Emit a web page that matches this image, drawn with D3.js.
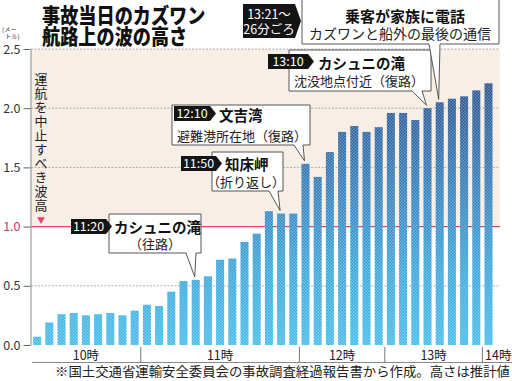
<!DOCTYPE html>
<html><head><meta charset="utf-8">
<script src="https://cdn.jsdelivr.net/npm/d3@7"></script>
<style>
html,body{margin:0;padding:0;background:#fff;}
svg{display:block;font-family:"Noto Sans CJK JP","Noto Sans",sans-serif;}
</style></head>
<body>
<script>
// ---- data ----
const waves = [0.07,0.19,0.26,0.27,0.25,0.26,0.27,0.25,0.29,0.34,0.33,0.45,0.54,0.55,0.58,0.72,0.73,0.87,0.94,
               1.13,1.11,1.11,1.53,1.42,1.63,1.80,1.85,1.80,1.84,1.96,1.96,1.90,2.00,2.05,2.08,2.10,2.15,2.21];
const hourLabels = ["10時","11時","12時","13時","14時"];
const hourBarCounts = [9,13,7,8,1];
const yTicks = [0,0.5,1.0,1.5,2.0,2.5];
const limitValue = 1.0;
const limitLabel = "運航を中止すべき波高";
const annoBars = [13,20,22,32,33];
const annoTimes = ["11:20","11:50","12:10","13:10","13:21～|26分ごろ"];
const annoTitles = ["カシュニの滝","知床岬","文吉湾","カシュニの滝","乗客が家族に電話"];
const annoSubs = ["（往路）","（折り返し）","避難港所在地（復路）","沈没地点付近（復路）","カズワンと船外の最後の通信"];
const titleLines = ["事故当日のカズワン","航路上の波の高さ"];
const unitLines = ["(メー","トル)"];
const footnote = "※国土交通省運輸安全委員会の事故調査経過報告書から作成。高さは推計値";

// ---- layout ----
const W=512,H=381;
const svg=d3.select("body").append("svg").attr("width",W).attr("height",H);
const defs=svg.append("defs");
const y=d3.scaleLinear().domain([0,2.5]).range([345,49]);
const x=d3.scaleBand().domain(d3.range(waves.length)).range([31,494.6]).paddingInner(0.344).paddingOuter(0.172);
const bw=x.bandwidth();

const grad=defs.append("linearGradient").attr("id","barGrad").attr("gradientUnits","userSpaceOnUse")
  .attr("x1",0).attr("x2",0).attr("y1",y(0)).attr("y2",y(2.5));
grad.append("stop").attr("offset",0).attr("stop-color","#48bdea");
grad.append("stop").attr("offset",0.25).attr("stop-color","#3ea8dc");
grad.append("stop").attr("offset",0.45).attr("stop-color","#3a8bc6");
grad.append("stop").attr("offset",0.75).attr("stop-color","#30649f");
grad.append("stop").attr("offset",1).attr("stop-color","#2a4c85");

const hatch=defs.append("pattern").attr("id","hatch").attr("patternUnits","userSpaceOnUse").attr("width",3).attr("height",3);
hatch.append("path").attr("d","M0,0 L3,3 M-1,2 L1,4 M2,-1 L4,1").attr("stroke","#fff").attr("stroke-opacity",0.3).attr("stroke-width",0.6);
hatch.append("path").attr("d","M0,3 L3,0 M-1,1 L1,-1 M2,4 L4,2").attr("stroke","#fff").attr("stroke-opacity",0.3).attr("stroke-width",0.6);

// beige zone above limit
svg.append("rect").attr("x",31).attr("y",y(2.5)).attr("width",469).attr("height",y(limitValue)-y(2.5)).attr("fill","#f7efe6");

// title (one text, two lines, horizontally condensed)
const tt=svg.append("g").attr("transform","translate(42,0) scale(0.865,1)")
  .append("text").attr("font-size",21).attr("font-weight",900).attr("fill","#111");
tt.selectAll("tspan").data(titleLines).join("tspan").attr("x",0).attr("y",(d,i)=>22.5+i*21.5).text(d=>d);

// grid
svg.selectAll("line.grid").data(yTicks.filter(t=>t>0&&t!==limitValue)).join("line").attr("class","grid")
  .attr("x1",31).attr("x2",500).attr("y1",d=>y(d)).attr("y2",d=>y(d))
  .attr("stroke","#9a9a9a").attr("stroke-width",0.8).attr("stroke-dasharray","2,1.5");
svg.append("line").attr("x1",31).attr("x2",500).attr("y1",y(limitValue)).attr("y2",y(limitValue))
  .attr("stroke","#e2456f").attr("stroke-width",1.2);

// bars
svg.append("g").selectAll("rect").data(waves).join("rect")
  .attr("x",(d,i)=>x(i)).attr("y",d=>y(d)).attr("width",bw).attr("height",d=>y(0)-y(d)).attr("fill","url(#barGrad)");
svg.append("g").selectAll("rect").data(waves).join("rect")
  .attr("x",(d,i)=>x(i)).attr("y",d=>y(d)).attr("width",bw).attr("height",d=>y(0)-y(d)).attr("fill","url(#hatch)");

// y axis
const ax=svg.append("g").attr("transform","translate(30.5,0)")
  .call(d3.axisLeft(y).tickValues(yTicks).tickSize(7).tickSizeOuter(0).tickPadding(3).tickFormat(d3.format(".1f")));
ax.select(".domain").attr("stroke","#888").attr("stroke-width",1);
ax.selectAll(".tick line").attr("stroke","#666");
ax.selectAll(".tick text").attr("font-size",12.5).attr("font-family","'Noto Sans CJK JP',sans-serif")
  .attr("fill",d=>d===limitValue?"#d8365f":"#333");

// unit (one text, two lines)
const ut=svg.append("text").attr("font-size",6.3).attr("fill","#333");
ut.selectAll("tspan").data(unitLines).join("tspan").attr("x",(d,i)=>i===0?2:5).attr("y",(d,i)=>32+i*6.5).text(d=>d);

// limit label vertical (single text, vertical writing mode)
svg.append("text").attr("x",41).attr("y",73).attr("font-size",13).attr("fill","#222")
  .style("writing-mode","vertical-rl").attr("textLength",139).attr("lengthAdjust","spacing").text(limitLabel);
svg.append("path").attr("d",d3.symbol(d3.symbolTriangle,26)()).attr("transform",`translate(41,${y(limitValue)-7}) rotate(180)`).attr("fill","#e2456f");

// x axis
const xAxisY=362.5;
svg.append("line").attr("x1",32).attr("x2",512).attr("y1",xAxisY).attr("y2",xAxisY).attr("stroke","#888").attr("stroke-width",1);
const starts=[];let acc=0;hourBarCounts.forEach(c=>{starts.push(acc);acc+=c;});
const segStart=i=> i===0?31:(x(starts[i]-1)+bw+x(starts[i]))/2;
const segEnd=i=> i===hourLabels.length-1?512:(x(starts[i]+hourBarCounts[i]-1)+bw+x(starts[i]+hourBarCounts[i]))/2;
svg.selectAll("line.sep").data(hourLabels.slice(1)).join("line").attr("class","sep")
  .attr("x1",(d,i)=>segStart(i+1)).attr("x2",(d,i)=>segStart(i+1)).attr("y1",347).attr("y2",xAxisY)
  .attr("stroke","#777").attr("stroke-width",1);
svg.selectAll("text.hour").data(hourLabels).join("text").attr("class","hour")
  .attr("x",(d,i)=>(segStart(i)+segEnd(i))/2+(i===4?1:0)).attr("y",360).attr("text-anchor","middle")
  .attr("font-size",12.5).attr("fill","#222").text(d=>d);

// footnote
svg.append("text").attr("x",55).attr("y",376).attr("font-size",13).attr("fill","#222")
  .attr("textLength",455).attr("lengthAdjust","spacingAndGlyphs").text(footnote);

// callouts
const layout=[
  {box:[109,214,201,253],tag:[71,219,41,15],title:[114,233],sub:[155,249,"middle"],pb:[186,196]},
  {box:[212,152,283,191],tag:[181,156,41,15],title:[225,170],sub:[246,187,"middle"],pb:[269,278]},
  {box:[172,105,310,145],tag:[174,106,42,15],title:[219,121],sub:[177,141,"start"],pb:[294,303]},
  {box:[289,50,431,91],tag:[268,54,46,15],title:[318,69],sub:[294,86,"start"],pb:[412,422]},
  {box:[302,-1,499,44],tag:[243,4,58,34],title:[345,22],sub:[309,39,"start"],pb:[429,440]}
];
layout.forEach((L,i)=>{
  const g=svg.append("g");
  const [x0,y0,x1,y1]=L.box;
  const tx=x(annoBars[i])+bw/2-1, ty=y(waves[annoBars[i]])-3;
  g.append("path").attr("d",`M${x0},${y0}H${x1}V${y1}H${L.pb[1]}L${tx},${ty}L${L.pb[0]},${y1}H${x0}Z`)
    .attr("fill","#fff").attr("stroke","#444").attr("stroke-width",0.9);
  const [gx,gy,gw,gh]=L.tag;
  g.append("path").attr("d",`M${gx},${gy}h${gw-6}l6,${gh/2}l-6,${gh/2}h${-(gw-6)}Z`).attr("fill","#141414");
  const tl=annoTimes[i].split("|");
  const tg=g.append("text").attr("text-anchor","middle").attr("font-size",12.5).attr("fill","#fff");
  tl.forEach((t,j)=>{
    tg.append("tspan").attr("x",gx+(gw-6)/2).attr("y",tl.length===1?gy+gh-3:gy+15+j*15).text(t);
  });
  g.append("text").attr("x",L.title[0]).attr("y",L.title[1]).attr("font-size",i===4?15:14.5).attr("font-weight",700).attr("fill","#111").text(annoTitles[i]);
  g.append("text").attr("x",L.sub[0]).attr("y",L.sub[1]).attr("text-anchor",L.sub[2]).attr("font-size",i===4?14:13).attr("fill","#222").text(annoSubs[i]);
});
</script>
</body></html>
